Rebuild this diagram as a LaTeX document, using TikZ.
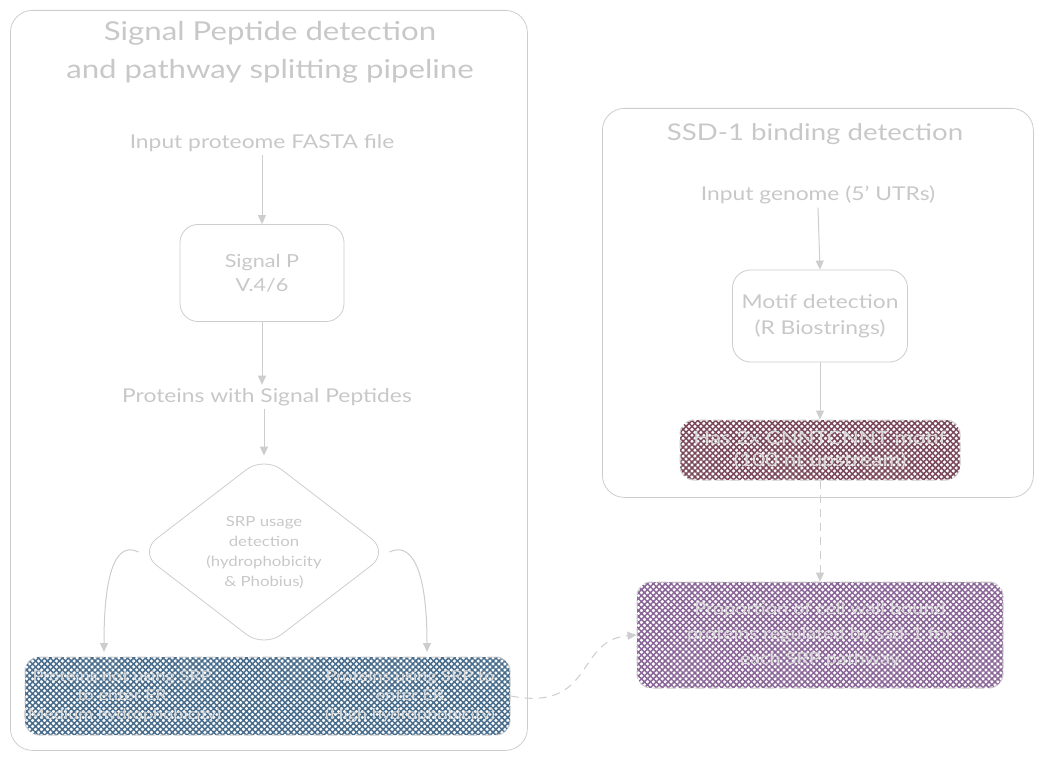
\documentclass[tikz,border=0pt]{standalone}
\usepackage{fontspec}
\setmainfont[FakeStretch=1.2]{Lato}
\usetikzlibrary{shapes.geometric,arrows.meta,patterns.meta}
\definecolor{ln}{RGB}{205,205,205}
\definecolor{tx}{RGB}{200,200,200}
\definecolor{htx}{RGB}{215,215,215}
\definecolor{hblue}{RGB}{72,108,140}
\definecolor{hmaroon}{RGB}{122,72,90}
\definecolor{hpurple}{RGB}{138,102,152}
\tikzset{
  x=1pt,y=-1pt,
  container/.style={draw=ln,line width=0.8pt,rounded corners=22pt},
  plain/.style={text=tx,align=center,font=\fontsize{18}{24}\selectfont},
  procbox/.style={draw=ln,line width=0.8pt,rounded corners=18pt,text=tx,align=center,inner sep=0pt},
  hatchbox/.style={draw=ln,dashed,dash pattern=on 9pt off 5pt,line width=1pt,rounded corners=14pt,
    pattern={Hatch[angle=45,distance=4.2pt,line width=1.5pt]},text=htx,align=center,inner sep=0pt},
  arr/.style={draw=ln,line width=1pt,-{Triangle[length=9pt,width=8pt]}},
  darr/.style={arr,dashed,dash pattern=on 8pt off 6pt},
}
\begin{document}
\begin{tikzpicture}
\useasboundingbox (0,0) rectangle (1044,762);
% left container
\node[container,minimum width=517pt,minimum height=740pt,anchor=north west] (lc) at (10,10) {};
\node[plain,font=\fontsize{26}{38}\selectfont] (lt) at (270,52) {Signal Peptide detection\\and pathway splitting pipeline};
\node[plain,font=\fontsize{19}{24}\selectfont] (in1) at (262,143) {Input proteome FASTA file};
\node[procbox,minimum width=164pt,minimum height=97pt,font=\fontsize{18}{24}\selectfont] (sp) at (262,273) {Signal P\\V.4/6};
\node[plain,font=\fontsize{19}{24}\selectfont] (pws) at (267,397) {Proteins with Signal Peptides};
\node[draw=ln,line width=0.8pt,shape=diamond,rounded corners=22pt,minimum width=250pt,minimum height=192pt,inner sep=0pt,
  text=tx,align=center,font=\fontsize{14}{20}\selectfont] (dia) at (264,552) {SRP usage\\detection\\(hydrophobicity\\\& Phobius)};
\node[hatchbox,pattern color=hblue,minimum width=485pt,minimum height=78pt] (bb) at (267.5,696) {};
\node[text=htx,align=center,font=\fontsize{15}{19}\selectfont] (bbl) at (122,696) {Proteins not using SRP\\to enter ER\\(Medium hydrophobicity)};
\node[text=htx,align=center,font=\fontsize{15}{19}\selectfont] (bbr) at (410,696) {Proteins using SRP to\\enter ER\\(High hydrophobicity)};
\coordinate (tl) at (104,652);
\coordinate (tr) at (427,652);
% right container
\node[container,minimum width=431pt,minimum height=389pt,anchor=north west] (rc) at (602,108) {};
\node[plain,font=\fontsize{23}{30}\selectfont] (rt) at (815,134) {SSD-1 binding detection};
\node[plain,font=\fontsize{19}{24}\selectfont] (in2) at (818,195) {Input genome (5' UTRs)};
\node[procbox,minimum width=175pt,minimum height=92pt,font=\fontsize{19}{26}\selectfont] (md) at (820,316) {Motif detection\\(R Biostrings)};
\node[hatchbox,pattern color=hmaroon,minimum width=280pt,minimum height=60pt,font=\fontsize{18.5}{22}\selectfont] (mb) at (820,450) {Has 2x CNNTCNNT motif\\(100 nt upstream)};
\node[hatchbox,pattern color=hpurple,minimum width=366pt,minimum height=106pt,font=\fontsize{16.5}{25}\selectfont] (pb) at (820,635) {Proportion of cell wall bound\\proteins regulated by ssd-1 for\\each SRP pathway};
% connectors
\draw[arr] (in1.south) -- (sp.north);
\draw[arr] (sp.south) -- (sp.south |- pws.north);
\draw[arr] (pws.south -| dia.north) -- (dia.north);
\draw[arr] (dia.west) .. controls (120,543) and (104,560) .. (tl);
\draw[arr] (dia.east) .. controls (410,542) and (427,565) .. (tr);
\draw[arr] (in2.south) -- (md.north);
\draw[arr] (md.south) -- (mb.north);
\draw[darr] (mb.south) -- (pb.north);
\draw[darr] (bb.east) .. controls (595,712) and (575,640) .. (pb.west);
\end{tikzpicture}
\end{document}
